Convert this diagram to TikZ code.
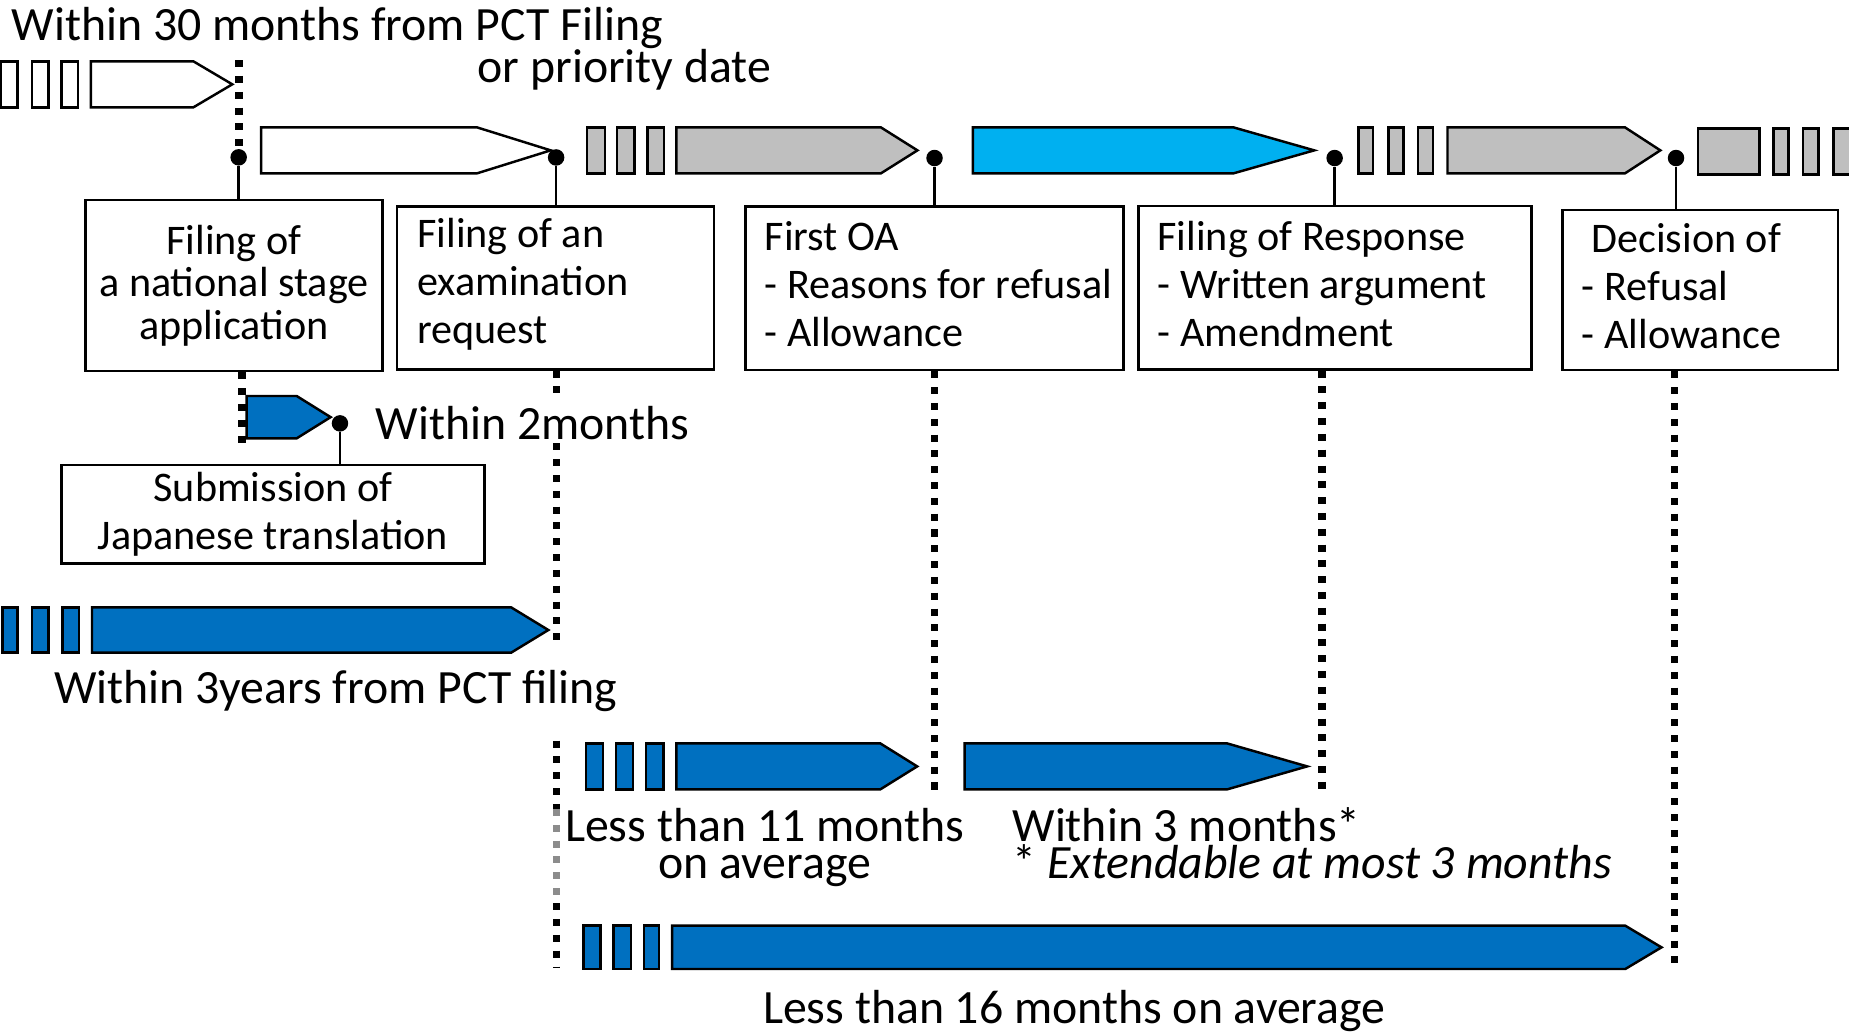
\documentclass[tikz,border=0pt]{standalone}
\usepackage{fontspec}
\setmainfont{Carlito}
\definecolor{blueA}{HTML}{0070C0}
\definecolor{cyanA}{HTML}{00B0F0}
\definecolor{grayA}{HTML}{BFBFBF}

\begin{document}
\begin{tikzpicture}[x=0.01179cm,y=-0.01179cm,
  box/.style={rectangle,draw,line width=0.75pt,inner sep=0pt},
  boxtext/.style={inner sep=0pt,align=left,yshift=0.04cm,font=\fontsize{12}{13.7}\selectfont},
  lbl/.style={inner sep=0pt,anchor=base west,font=\fontsize{13.6}{16}\selectfont},
  dot/.style={circle,fill,inner sep=0pt,minimum size=0.165cm},
  link/.style={line width=0.7pt},
  dotline/.style={line width=2.2pt,dash pattern=on 2pt off 2.5pt},
  wbar/.style={draw,fill=white,line width=0.7pt},
  gbar/.style={draw,fill=grayA,line width=0.7pt},
  cbar/.style={draw,fill=cyanA,line width=0.7pt},
  bbar/.style={draw,fill=blueA,line width=0.7pt}]

	\useasboundingbox (0,0) rectangle (1568,876);
	\clip (0,0) rectangle (1568,876);

	% arrows: start / end of body / tip / top / bottom / style
	\foreach \xa/\xb/\xc/\ya/\yb/\sty in {
	  77/164/197/52/91/wbar,
	  221.5/404.5/467/108/147/wbar,
	  573.5/747/778/108/147/gbar,
	  825/1046/1114.5/108/147/cbar,
	  1227.5/1378/1408/108/147/gbar,
	  209.2/251.6/280.4/335.8/371.7/bbar,
	  78/433.4/465/515/553.5/bbar,
	  573.6/746.5/777.8/630.4/669.4/bbar,
	  818/1040.6/1108.5/630.4/669.4/bbar,
	  570/1378.3/1409/785/821.7/bbar}
	  \draw[\sty] (\xa,\ya) -- (\xb,\ya) -- (\xc,{(\ya+\yb)/2}) -- (\xb,\yb) -- (\xa,\yb) -- cycle;

	% the small bars in front of (and after) the arrows
	\foreach \xa/\xb/\ya/\yb/\sty in {
	  1/15/52/91/wbar, 27/41/52/91/wbar, 52/66/52/91/wbar,
	  498/513/108/147/gbar, 523/538/108/147/gbar, 549/563/108/147/gbar,
	  1152/1164.5/108/147/gbar, 1177.5/1190/108/147/gbar, 1202.5/1215/108/147/gbar,
	  1440/1492/109/148/gbar, 1504/1516.5/109/148/gbar, 1529/1542/109/148/gbar, 1555/1580/109/148/gbar,
	  2/15/515/553.5/bbar, 27/41/515/553.5/bbar, 53/67/515/553.5/bbar,
	  497/511.5/630.4/669.4/bbar, 522.4/537/630.4/669.4/bbar, 548/562.7/630.4/669.4/bbar,
	  495/509.4/785/821.7/bbar, 520.3/535/785/821.7/bbar, 546/559/785/821.7/bbar}
	  \draw[\sty] (\xa,\ya) rectangle (\xb,\yb);

	% boxes
	\node[box,align=center,font=\fontsize{12}{12.1}\selectfont,minimum width=2.973cm,minimum height=1.71cm] (nat) at (198.4,242.1) {Filing of\\a national stage\\application};
	\node[box,minimum width=3.172cm,minimum height=1.626cm] (exam) at (471.1,244.25) {};
	\node[boxtext,anchor=west] at ([xshift=0.21cm]exam.west) {Filing of an\\examination\\request};
	\node[box,minimum width=3.782cm,minimum height=1.633cm] (oa) at (792.4,244.55) {};
	\node[boxtext,anchor=west] at ([xshift=0.2cm]oa.west) {First OA\\- Reasons for refusal\\- Allowance};
	\node[box,minimum width=3.936cm,minimum height=1.633cm] (resp) at (1132.1,243.95) {};
	\node[boxtext,anchor=west] at ([xshift=0.2cm]resp.west) {Filing of Response\\- Written argument\\- Amendment};
	\node[box,minimum width=2.755cm,minimum height=1.601cm] (dec) at (1441.85,245.9) {};
	\node[boxtext,anchor=west] at ([xshift=0.2cm]dec.west) {\hspace*{0.226em}Decision of\\- Refusal\\- Allowance};
	\node[box,align=center,font=\fontsize{12}{13.75}\selectfont,minimum width=4.234cm,minimum height=0.983cm] (trans) at (231.45,436) {Submission of\\Japanese translation};

	% dots on the time line
	\node[dot] (d1) at (202.4,133.4) {};
	\node[dot] (d2) at (471.6,133.5) {};
	\node[dot] (d3) at (792.5,134) {};
	\node[dot] (d4) at (1131.8,134) {};
	\node[dot] (d5) at (1421.3,134) {};
	\node[dot] (d6) at (288.3,359) {};

	\draw[link] (d1) -- (d1 |- nat.north);
	\draw[link] (d2) -- (d2 |- exam.north);
	\draw[link] (d3) -- (d3 |- oa.north);
	\draw[link] (d4) -- (d4 |- resp.north);
	\draw[link] (d5) -- (d5 |- dec.north);
	\draw[link] (d6) -- (d6 |- trans.north);

	% dotted limits
	\coordinate (top1) at (202.4,51);
	\draw[dotline] (top1) -- (d1);
	\coordinate (n1) at (205.5,377);
	\draw[dotline] (nat.south -| n1) -- (n1);
	\coordinate (x1) at (472,333);
	\coordinate (x2) at (472,376);
	\coordinate (x3) at (472,550);
	\coordinate (x4) at (472,628);
	\coordinate (x5) at (472,686);
	\coordinate (x6) at (472,766);
	\coordinate (x7) at (472,821);
	\draw[dotline] (exam.south -| x1) -- (x1) (x2) -- (x3) (x4) -- (x5) (x6) -- (x7);
	\draw[dotline,black!45] (x5) -- (x6);
	\coordinate (o1) at (792.5,672);
	\draw[dotline] (oa.south -| o1) -- (o1);
	\coordinate (r1) at (1120.8,672);
	\draw[dotline] (resp.south -| r1) -- (r1);
	\coordinate (c1) at (1420,821);
	\draw[dotline] (dec.south -| c1) -- (c1);

	% labels
	\node[lbl] (t30) at (9.5,34) {Within 30 months from PCT Filing};
	\node[lbl] (t30b) at (404.5,70) {or priority date};
	\node[lbl] (w2) at (318,373) {Within 2months};
	\node[lbl] (w3y) at (45.4,596.5) {Within 3years from PCT filing};
	\node[lbl,anchor=base] (l11) at (648.4,713.8) {Less than 11 months};
	\node[lbl,anchor=base] (l11b) at (648.4,744.9) {on average};
	\node[lbl] (w3m) at (858,713.8) {Within 3 months*};
	\node[lbl] (ext) at (858,744.9) {* \textit{Extendable at most 3 months}};
	\node[lbl] (l16) at (646.5,867.8) {Less than 16 months on average};

\end{tikzpicture}
\end{document}
